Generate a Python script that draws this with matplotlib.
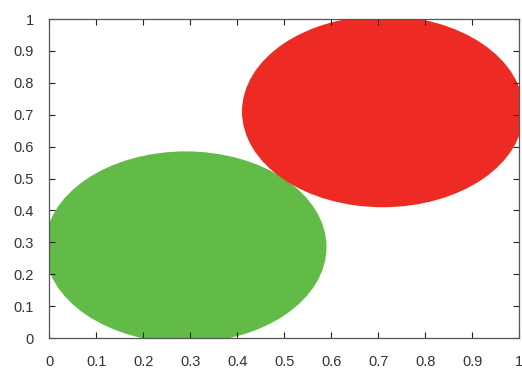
import matplotlib.pyplot as plt
from matplotlib.patches import Circle
import numpy as np

# two filled discs (data coordinates)
centers = [(0.29, 0.285), (0.71, 0.71)]
radii = [0.30, 0.30]
colors = ['#63bb47', '#ee2a25']
ticks = np.round(np.arange(0, 1.01, 0.1), 1)

plt.rcParams['font.family'] = ['Liberation Sans', 'DejaVu Sans']

fig = plt.figure(figsize=(5.22, 3.69), dpi=100)
ax = fig.add_axes([0.0948, 0.084, 0.8995, 0.8645])

for (cx, cy), r, c in zip(centers, radii, colors):
    ax.add_patch(Circle((cx, cy), r, facecolor=c, edgecolor='none', zorder=1))

ax.set_xlim(0, 1)
ax.set_ylim(0, 1)
ax.set_xticks(ticks)
ax.set_yticks(ticks)
ax.set_xticklabels(['%g' % t for t in ticks])
ax.set_yticklabels(['%g' % t for t in ticks])

ax.tick_params(direction='in', length=4.5, width=0.8, color='#222222',
               top=True, right=True, labelsize=10.5, labelcolor='#333333')
ax.tick_params(axis='x', pad=12)
ax.tick_params(axis='y', pad=11.5)
for s in ax.spines.values():
    s.set_color('#555555')
    s.set_linewidth(0.9)
    s.set_zorder(3)

fig.savefig('out.png', dpi=100)
